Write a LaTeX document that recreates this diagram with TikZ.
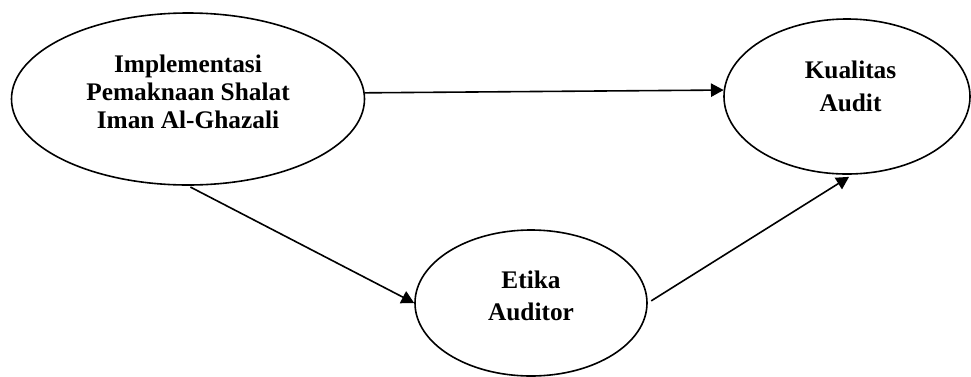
\documentclass[tikz,border=0pt]{standalone}
\usepackage{fontspec}
\setmainfont{Liberation Serif}
\usetikzlibrary{arrows.meta,shapes.geometric}
\begin{document}
\begin{tikzpicture}[x=0.75pt,y=-0.75pt,
  oval/.style={draw,ellipse,line width=1.2pt,inner sep=0pt},
  lbl/.style={anchor=base,inner sep=0pt,font=\bfseries\fontsize{19}{21}\selectfont},
  conn/.style={line width=1.2pt,-{Triangle[length=9.5pt,width=10pt]}}]
\useasboundingbox (0,0) rectangle (971,376);
\node[oval,minimum width=264.75pt,minimum height=129pt] (L) at (188,99) {};
\node[oval,minimum width=184.5pt,minimum height=116.25pt] (R) at (847,96.5) {};
\node[oval,minimum width=174pt,minimum height=109.5pt] (B) at (531,303) {};
\node[lbl] (l1) at (188,72) {Implementasi};
\node[lbl] (l2) at (188,100) {Pemaknaan Shalat};
\node[lbl] (l3) at (188,128) {Iman Al-Ghazali};
\node[lbl] (r1) at (850.5,78) {Kualitas};
\node[lbl] (r2) at (850.5,111) {Audit};
\node[lbl] (b1) at (531,288) {Etika};
\node[lbl] (b2) at (531,320) {Auditor};
\draw[conn] (L.2.3) -- (R.177.9);
\draw[conn,shorten <=2pt] (L.south) -- (B.west);
\draw[conn,shorten <=3pt,shorten >=3pt] (B.east) -- (R.-86.5);
\end{tikzpicture}
\end{document}
